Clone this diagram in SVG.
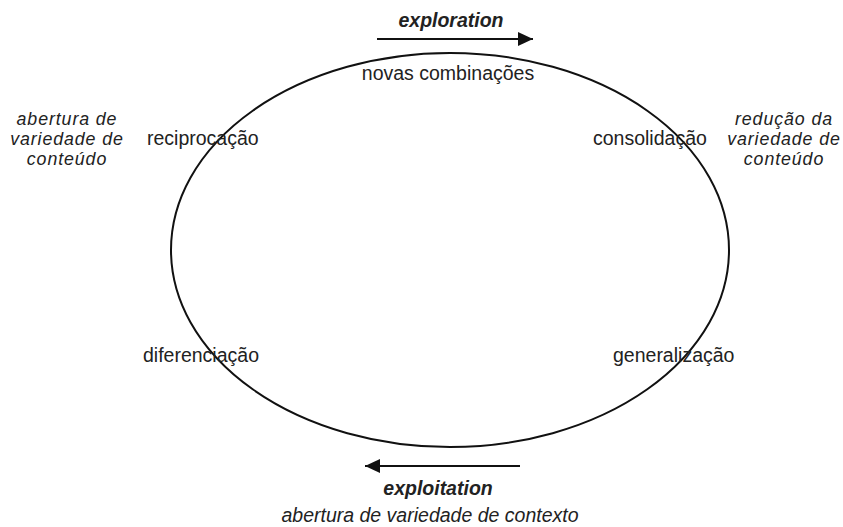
<svg xmlns="http://www.w3.org/2000/svg" width="843" height="527" viewBox="0 0 843 527">
  <style>
    .lbl { font-family: "Liberation Sans", Arial, sans-serif; font-size: 19.5px; fill: #222; }
    .it { font-style: italic; }
    .bi { font-style: italic; font-weight: bold; }
    .mid { text-anchor: middle; }
    .stack { font-size: 17.8px; letter-spacing: 0.9px; }
    .line { stroke: #111; stroke-width: 2; fill: none; }
  </style>
  <defs>
    <marker id="head" viewBox="0 0 15 14" refX="15" refY="7" markerWidth="15" markerHeight="14" markerUnits="userSpaceOnUse" orient="auto">
      <path d="M0,0 L15,7 L0,14 Z" fill="#111"/>
    </marker>
  </defs>
  <rect width="843" height="527" fill="#fff"/>

  <!-- cycle and the two direction arrows -->
  <g id="connectors">
    <ellipse class="line" cx="450" cy="250" rx="279" ry="197"/>
    <line class="line" x1="377" y1="39" x2="533" y2="39" marker-end="url(#head)"/>
    <line class="line" x1="520" y1="466" x2="365" y2="466" marker-end="url(#head)"/>
  </g>

  <g id="exploration">
    <text class="lbl bi mid" x="451" y="27">exploration</text>
  </g>
  <g id="novas-combinacoes">
    <text class="lbl mid" x="448" y="80">novas combinações</text>
  </g>
  <g id="reciprocacao">
    <text class="lbl" x="147" y="145">reciprocação</text>
  </g>
  <g id="consolidacao">
    <text class="lbl" x="593" y="145">consolidação</text>
  </g>
  <g id="diferenciacao">
    <text class="lbl" x="143" y="362">diferenciação</text>
  </g>
  <g id="generalizacao">
    <text class="lbl" x="613" y="362">generalização</text>
  </g>
  <g id="abertura-conteudo">
    <text class="lbl it mid stack" x="67" y="125">abertura de</text>
    <text class="lbl it mid stack" x="67" y="145">variedade de</text>
    <text class="lbl it mid stack" x="67" y="165">conteúdo</text>
  </g>
  <g id="reducao-conteudo">
    <text class="lbl it mid stack" x="784" y="125">redução da</text>
    <text class="lbl it mid stack" x="784" y="145">variedade de</text>
    <text class="lbl it mid stack" x="784" y="165">conteúdo</text>
  </g>
  <g id="exploitation">
    <text class="lbl bi mid" x="438" y="495">exploitation</text>
    <text class="lbl it mid" x="430" y="522">abertura de variedade de contexto</text>
  </g>
</svg>
